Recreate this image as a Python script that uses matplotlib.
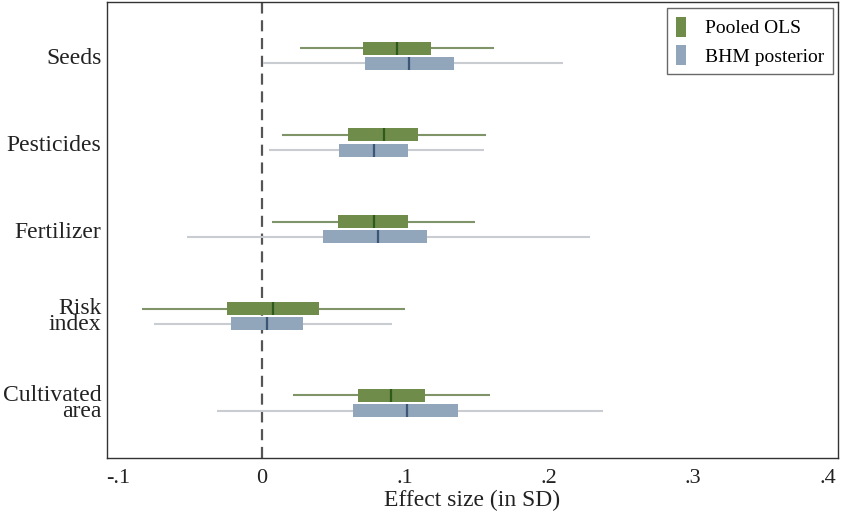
import numpy as np
import matplotlib
matplotlib.use('Agg')
import matplotlib.pyplot as plt
from matplotlib.patches import Patch

plt.rcParams['font.family'] = ['Liberation Serif', 'DejaVu Serif']

# categories, top to bottom
categories = ['Seeds', 'Pesticides', 'Fertilizer', 'Risk\nindex', 'Cultivated\narea']

# Pooled OLS: whisker low, box low, median, box high, whisker high
ols_lo = [0.027, 0.014, 0.007, -0.083, 0.022]
ols_q1 = [0.071, 0.060, 0.053, -0.024, 0.067]
ols_med = [0.094, 0.085, 0.078, 0.008, 0.090]
ols_q3 = [0.118, 0.109, 0.102, 0.040, 0.114]
ols_hi = [0.162, 0.156, 0.149, 0.100, 0.159]

# BHM posterior
bhm_lo = [0.001, 0.005, -0.052, -0.075, -0.031]
bhm_q1 = [0.072, 0.054, 0.043, -0.021, 0.064]
bhm_med = [0.103, 0.078, 0.081, 0.004, 0.101]
bhm_q3 = [0.134, 0.102, 0.115, 0.029, 0.137]
bhm_hi = [0.210, 0.155, 0.229, 0.091, 0.238]

xticks = [-0.1, 0, 0.1, 0.2, 0.3, 0.4]
xticklabels = ['-.1', '0', '.1', '.2', '.3', '.4']

fig = plt.figure(figsize=(8.41, 5.16), dpi=100)
ax = fig.add_axes([0.1272, 0.1124, 0.8692, 0.8836])

pos = np.arange(len(categories))
h = 0.15
series = [
    (pos - 0.09, ols_lo, ols_q1, ols_med, ols_q3, ols_hi, '#6f8c4b', '#7f9468', '#2e5a1c'),
    (pos + 0.085, bhm_lo, bhm_q1, bhm_med, bhm_q3, bhm_hi, '#91a5bb', '#c9cdd1', '#3c5676'),
]
for y, lo, q1, med, q3, hi, box_c, wh_c, med_c in series:
    lo, q1, med, q3, hi = map(np.array, (lo, q1, med, q3, hi))
    ax.hlines(y, lo, hi, color=wh_c, lw=1.5, zorder=2)
    ax.barh(y, q3 - q1, left=q1, height=h, color=box_c, edgecolor='none', zorder=3)
    ax.vlines(med, y - h / 2, y + h / 2, color=med_c, lw=1.6, zorder=4)

ax.axvline(0, color='#555555', lw=1.6, ls=(0, (5, 3)), zorder=1)

ax.set_xlim(-0.1076, 0.4014)
ax.set_ylim(4.63, -0.62)
ax.set_xticks(xticks)
ax.set_xticklabels(xticklabels)
ax.get_xticklabels()[-1].set_ha('right')
ax.set_yticks(pos)
ax.set_yticklabels(categories, linespacing=0.72)
ax.tick_params(axis='y', length=0, labelsize=17, colors='#222222', pad=4)
ax.tick_params(axis='x', length=0, labelsize=16, colors='#222222', pad=8)
ax.set_xlabel('Effect size (in SD)', fontsize=17, color='#222222', labelpad=1)
for s in ax.spines.values():
    s.set_color('#333333')
    s.set_linewidth(1.0)

handles = [Patch(facecolor='#6f8c4b', label='Pooled OLS'),
           Patch(facecolor='#91a5bb', label='BHM posterior')]
leg = ax.legend(handles=handles, loc='upper right', fontsize=14, frameon=True,
                fancybox=False, edgecolor='#444444', handlelength=0.55, handleheight=1.2,
                handletextpad=0.95, borderpad=0.45, labelspacing=0.4, borderaxespad=0,
                bbox_to_anchor=(0.993, 0.987))
leg.get_frame().set_linewidth(1.0)

fig.savefig('out.png', dpi=100)
